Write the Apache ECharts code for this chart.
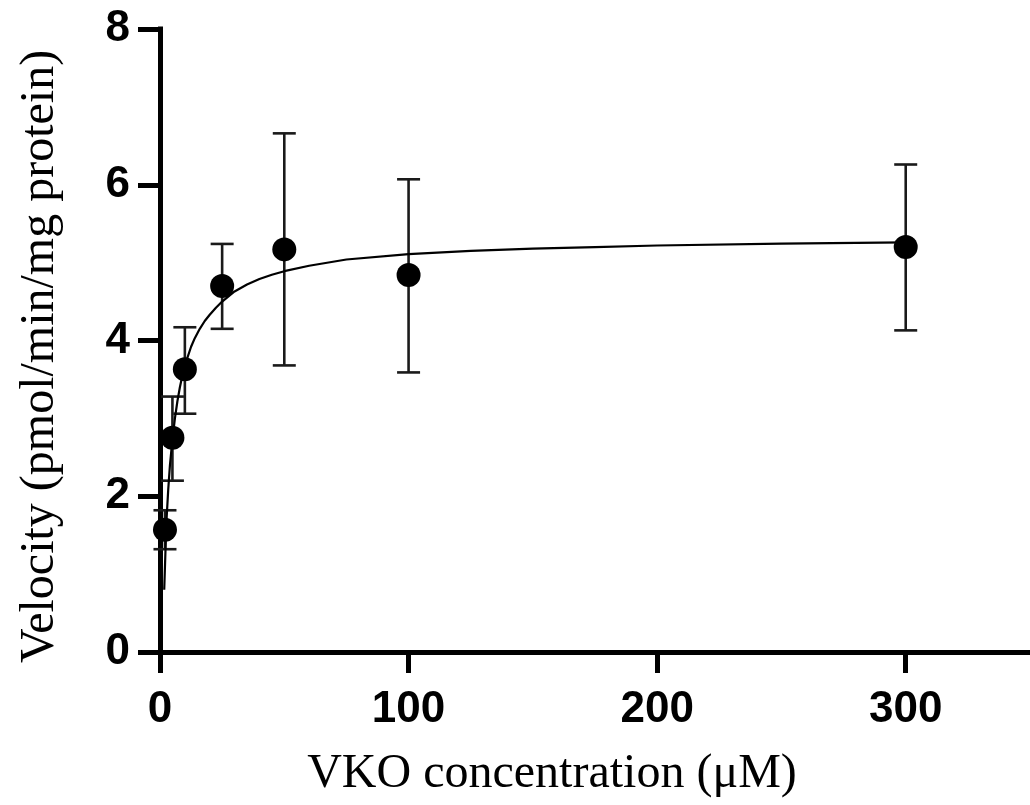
<!DOCTYPE html>
<html><head><meta charset="utf-8">
<script src="https://cdn.jsdelivr.net/npm/echarts@6/dist/echarts.min.js"></script>
<style>html,body{margin:0;padding:0;background:#fff}#chart{width:1030px;height:805px}</style>
</head><body><div id="chart"></div>
<script>
// Measured data (VKO concentration, µM) and velocity (pmol/min/mg protein)
const concentrations = [2, 5, 10, 25, 50, 100, 300];
const velocities     = [1.57, 2.75, 3.63, 4.70, 5.17, 4.84, 5.20];
const errorUpper     = [1.82, 3.28, 4.17, 5.24, 6.66, 6.07, 6.26];
const errorLower     = [1.32, 2.20, 3.06, 4.15, 3.68, 3.59, 4.13];

// Fitted curve
const fitX = [1.7, 2.2, 2.7, 3.3, 4, 5, 6, 7, 8, 9, 10, 12.5, 14, 16, 18, 20, 22.5, 25, 30, 35, 40, 45, 50, 60, 75, 100, 125, 150, 175, 200, 250, 300];
const fitY = [0.80, 1.30, 1.74, 2.08, 2.40, 2.73, 3.00, 3.22, 3.40, 3.55, 3.68, 3.92, 4.03, 4.15, 4.25, 4.33, 4.42, 4.50, 4.63, 4.72, 4.79, 4.845, 4.89, 4.96, 5.04, 5.11, 5.15, 5.18, 5.20, 5.22, 5.245, 5.26];

const xTicks = [0, 100, 200, 300];
const yTicks = [0, 2, 4, 6, 8];

const xTitle = 'VKO concentration (\u03bcM)';
const yTitle = 'Velocity (pmol/min/mg protein)';

const pointData = concentrations.map((c, i) => [c, velocities[i]]);
const errData = concentrations.map((c, i) => [c, errorLower[i], errorUpper[i]]);
const fitData = fitX.map((x, i) => [x, fitY[i]]);

const chart = echarts.init(document.getElementById('chart'), null, {renderer: 'canvas'});

const axisLineStyle = {color: '#000', width: 5, cap: 'square'};
const labelStyle = {color: '#000', fontFamily: 'Liberation Sans', fontWeight: 'bold', fontSize: 44};
const nameStyle = {color: '#000', fontFamily: 'Liberation Serif', fontSize: 48};

chart.setOption({
  animation: false,
  backgroundColor: '#fff',
  grid: {left: 160, right: 0, top: 29, bottom: 153, containLabel: false},
  xAxis: {
    type: 'value', min: 0, max: 350, interval: 100,
    name: xTitle, nameLocation: 'middle', nameGap: 98,
    nameTextStyle: Object.assign({padding: [0, 86, 0, 0]}, nameStyle),
    axisLine: {show: true, onZero: false, lineStyle: axisLineStyle},
    axisTick: {show: true, length: 21, lineStyle: {color: '#000', width: 5}, customValues: xTicks},
    axisLabel: Object.assign({margin: 36, customValues: xTicks}, labelStyle),
    splitLine: {show: false}
  },
  yAxis: {
    type: 'value', min: 0, max: 8, interval: 2,
    name: yTitle, nameLocation: 'middle', nameGap: 96, nameRotate: 90,
    nameTextStyle: Object.assign({padding: [0, 32, 0, 0]}, nameStyle),
    axisLine: {show: true, onZero: false, lineStyle: axisLineStyle},
    axisTick: {show: true, length: 22, lineStyle: {color: '#000', width: 5}, customValues: yTicks},
    axisLabel: Object.assign({margin: 30, customValues: yTicks}, labelStyle),
    splitLine: {show: false}
  },
  series: [
    {
      type: 'line', data: fitData, showSymbol: false, symbol: 'none',
      smooth: false,
      lineStyle: {color: '#000', width: 2.2, join: 'round'}, z: 3, silent: true
    },
    {
      type: 'custom', data: errData, z: 2, silent: true,
      encode: {x: 0, y: [1, 2]},
      renderItem: function (params, api) {
        const x = api.value(0), lo = api.value(1), hi = api.value(2);
        const pHi = api.coord([x, hi]);
        const pLo = api.coord([x, lo]);
        const w = 11.5;
        const style = {stroke: '#1a1a1a', lineWidth: 2.6, fill: null};
        return {
          type: 'group',
          children: [
            {type: 'line', shape: {x1: pHi[0], y1: pHi[1], x2: pLo[0], y2: pLo[1]}, style: style},
            {type: 'line', shape: {x1: pHi[0] - w, y1: pHi[1], x2: pHi[0] + w, y2: pHi[1]}, style: style},
            {type: 'line', shape: {x1: pLo[0] - w, y1: pLo[1], x2: pLo[0] + w, y2: pLo[1]}, style: style}
          ]
        };
      }
    },
    {
      type: 'scatter', data: pointData, symbol: 'circle', symbolSize: 24,
      itemStyle: {color: '#000', opacity: 1}, z: 4, silent: true
    }
  ]
});
</script>
</body></html>
